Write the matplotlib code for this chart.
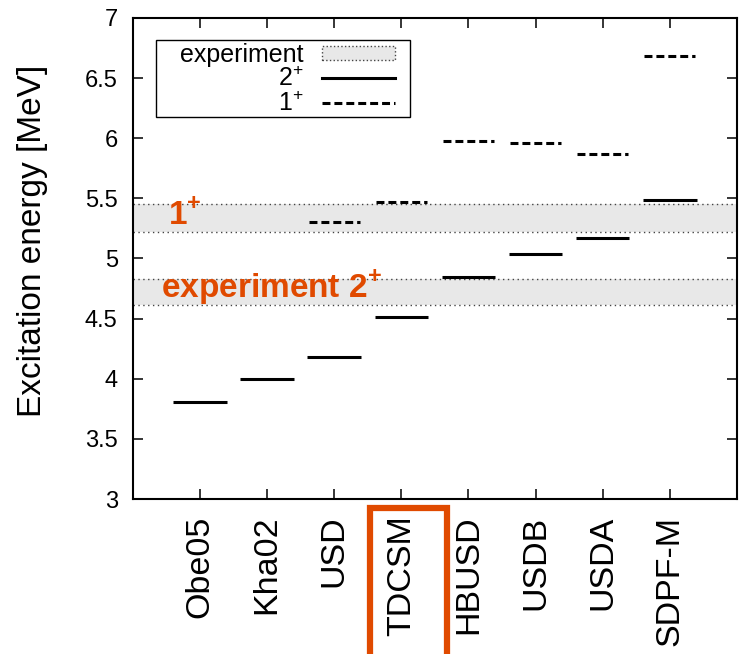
import matplotlib
matplotlib.use("Agg")
import matplotlib.pyplot as plt
from matplotlib.patches import Patch, Rectangle
from matplotlib.lines import Line2D

plt.rcParams['font.family'] = ['Liberation Sans', 'DejaVu Sans']
plt.rcParams['mathtext.fontset'] = 'custom'
plt.rcParams['mathtext.rm'] = 'Liberation Sans'
plt.rcParams['mathtext.bf'] = 'Liberation Sans:bold'

# shell-model calculations
models = ['Obe05', 'Kha02', 'USD', 'TDCSM', 'HBUSD', 'USDB', 'USDA', 'SDPF-M']
e_2plus = [3.81, 4.00, 4.18, 4.51, 4.85, 5.04, 5.17, 5.49]
e_1plus = [None, None, 5.30, 5.47, 5.98, 5.96, 5.87, 6.68]

# experimental ranges
exp_2plus = (4.61, 4.83)
exp_1plus = (5.22, 5.45)

orange = '#e04a00'
band_col = '#e8e8e8'

fig = plt.figure(figsize=(7.39, 6.54), dpi=100)
ax = fig.add_axes([0.18, 0.237, 0.817, 0.7355])

xs = list(range(1, len(models) + 1))

# experimental bands
for lo, hi in [exp_2plus, exp_1plus]:
    ax.axhspan(lo, hi, color=band_col, lw=0, zorder=0)
    ax.axhline(lo, color='#444444', lw=1, ls=(0, (1, 2.5)), zorder=1)
    ax.axhline(hi, color='#444444', lw=1, ls=(0, (1, 2.5)), zorder=1)

# levels
for x, e in zip(xs, e_2plus):
    ax.hlines(e, x - 0.4, x + 0.4, color='black', lw=2.2, zorder=3)
for x, e in zip(xs, e_1plus):
    if e is not None:
        ax.hlines(e, x - 0.38, x + 0.38, color='black', lw=2.2,
                  linestyles=(0, (2.6, 1.3)), zorder=3)

ax.text(0.52, 5.28, r'1$^\mathbf{+}$', color=orange, fontsize=24,
        fontweight='bold', zorder=4)
ax.text(0.42, 4.67, r'experiment 2$^\mathbf{+}$', color=orange, fontsize=24,
        fontweight='bold', zorder=4)

ax.set_xlim(0, 9)
ax.set_ylim(3, 7)
ax.set_xticks(xs)
ax.set_xticklabels(models, rotation=90, fontsize=24.5)
ax.set_yticks([3, 3.5, 4, 4.5, 5, 5.5, 6, 6.5, 7])
ax.set_yticklabels(['3', '3.5', '4', '4.5', '5', '5.5', '6', '6.5', '7'], fontsize=17)
ax.tick_params(direction='in', top=True, right=True, length=7, width=1.1)
ax.tick_params(axis='y', pad=11)
ax.tick_params(axis='x', pad=12)
for s in ax.spines.values():
    s.set_linewidth(1.5)

ax.set_ylabel('Excitation energy [MeV]', fontsize=24)
ax.yaxis.set_label_coords(-0.14, 0.537)

# legend box drawn separately so its padding can match the original
ax.add_patch(Rectangle((0.038, 0.794), 0.4206, 0.16, transform=ax.transAxes,
                       facecolor='white', edgecolor='black', lw=1, zorder=4.5))

handles = [Patch(facecolor=band_col, edgecolor='#444444', linestyle=':', lw=1),
           Line2D([], [], color='black', lw=2.2),
           Line2D([], [], color='black', lw=2.2, ls=(0, (2.6, 1.3)))]
leg = ax.legend(handles, ['experiment', r'2$^{+}$', r'1$^{+}$'], loc='upper right',
                bbox_to_anchor=(0.4387, 0.954), borderaxespad=0, markerfirst=False,
                fontsize=18, handlelength=2.9, handleheight=0.5, labelspacing=0.0,
                borderpad=0.12, handletextpad=0.75, frameon=False)
leg.set_zorder(5)
vp = leg._legend_box._children[-1]._children[0]
vp.align = 'right'

# highlight box around TDCSM
fig.add_artist(Rectangle((370 / 739, -0.02), 77 / 739, 1 - 508 / 654 + 0.02,
                         transform=fig.transFigure, fill=False, edgecolor=orange,
                         lw=4.5, clip_on=False))

fig.savefig('out.png', dpi=100)
